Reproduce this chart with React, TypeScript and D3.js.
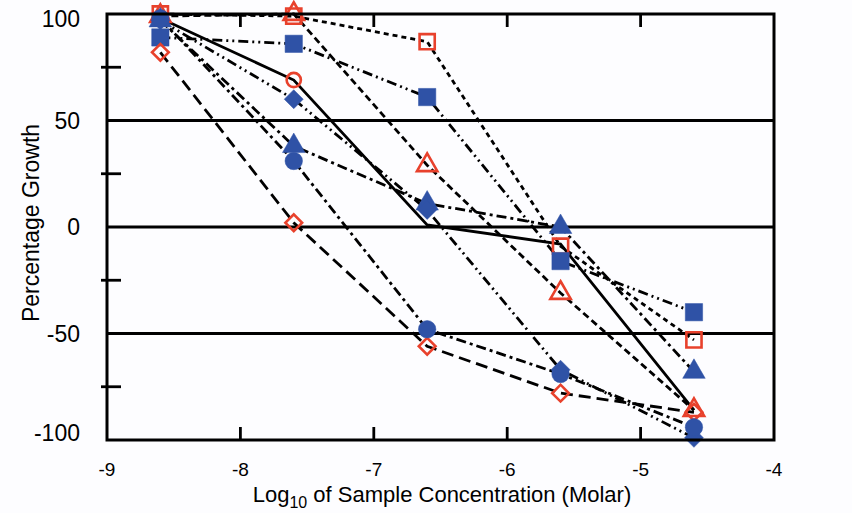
import React from "react";
import * as d3 from "d3";

const xValues = [-8.6, -7.6, -6.6, -5.6, -4.6];
const redSquare = [100, 99, 87, -9, -53];
const redTriangle = [99, 100, 29, -31, -86];
const blueSquare = [89, 86, 61, -16, -40];
const redCircle = [98, 69, 1, -8, -86];
const redCircleMarkerShown = [true, true, false, false, false];
const blueCircle = [98, 31, -48, -69, -94];
const blueTriangle = [97, 38, 11, 0, -68];
const blueDiamond = [97, 60, 8, -67, -99];
const redDiamond = [82, 2, -56, -78, -87];

const xTicks = [-9, -8, -7, -6, -5, -4];
const yLabelTicks = [100, 50, 0, -50, -100];
const yMinorTicks = [75, 25, -25, -75];
const gridValues = [50, 0, -50];

const RED = "#E8412C";
const BLUE = "#2F52A6";

type Sym = "square" | "circle" | "triangle" | "diamond";
interface Series {
  name: string;
  values: number[];
  symbol: Sym;
  filled: boolean;
  color: string;
  dash: string;
  shown?: boolean[];
}

const seriesList: Series[] = [
  { name: "redSquare", values: redSquare, symbol: "square", filled: false, color: RED, dash: "5,4" },
  { name: "redTriangle", values: redTriangle, symbol: "triangle", filled: false, color: RED, dash: "7,4" },
  { name: "blueSquare", values: blueSquare, symbol: "square", filled: true, color: BLUE, dash: "10,4,2,4,2,4" },
  { name: "redCircle", values: redCircle, symbol: "circle", filled: false, color: RED, dash: "none", shown: redCircleMarkerShown },
  { name: "redDiamond", values: redDiamond, symbol: "diamond", filled: false, color: RED, dash: "12,6" },
  { name: "blueTriangle", values: blueTriangle, symbol: "triangle", filled: true, color: BLUE, dash: "10,4,3,4" },
  { name: "blueDiamond", values: blueDiamond, symbol: "diamond", filled: true, color: BLUE, dash: "10,4,2,4,2,4" },
  { name: "blueCircle", values: blueCircle, symbol: "circle", filled: true, color: BLUE, dash: "10,4,3,4" },
];

const W = 852;
const H = 513;
const M = { left: 107, right: 774, top: 14, bottom: 440 };

const x = d3.scaleLinear().domain([-9, -4]).range([M.left, M.right]);
const y = d3.scaleLinear().domain([-100, 100]).range([M.bottom, M.top]);

const line = d3
  .line<number>()
  .x((_, i) => x(xValues[i]))
  .y((d) => y(d));

function symbolPath(sym: Sym, filled: boolean) {
  const typeMap = {
    square: d3.symbolSquare,
    circle: d3.symbolCircle,
    triangle: d3.symbolTriangle,
    diamond: d3.symbolSquare,
  } as const;
  const size = filled
    ? { square: 300, circle: 240, triangle: 220, diamond: 180 }[sym]
    : { square: 230, circle: 160, triangle: 180, diamond: 140 }[sym];
  return d3.symbol(typeMap[sym], size)() as string;
}

export default function App() {
  const font = "'Liberation Sans', Arial, sans-serif";
  return (
    <svg
      width={W}
      height={H}
      style={{ position: "absolute", left: 0, top: 0, background: "#fdfdff" }}
      fontFamily={font}
    >
      <rect x={0} y={0} width={W} height={H} fill="#fdfdff" />
      {gridValues.map((v) => (
        <line key={v} x1={M.left} x2={M.right} y1={y(v)} y2={y(v)} stroke="#000" strokeWidth={2.8} />
      ))}
      {seriesList.map((s) => (
        <path
          key={s.name}
          d={line(s.values) as string}
          fill="none"
          stroke="#000"
          strokeWidth={2.8}
          strokeDasharray={s.dash}
        />
      ))}
      {seriesList.map((s) =>
        s.values.map((v, i) => {
          if (s.shown && !s.shown[i]) return null;
          const rot = s.symbol === "diamond" ? 45 : 0;
          return (
            <path
              key={s.name + i}
              d={symbolPath(s.symbol, s.filled)}
              transform={`translate(${x(xValues[i])},${y(v)}) rotate(${rot})`}
              fill={s.filled ? s.color : "none"}
              stroke={s.color}
              strokeWidth={s.filled ? 0.5 : 2.6}
            />
          );
        })
      )}
      <rect
        x={M.left}
        y={M.top}
        width={M.right - M.left}
        height={M.bottom - M.top}
        fill="none"
        stroke="#000"
        strokeWidth={3}
      />
      {yMinorTicks.map((v) => (
        <line key={v} x1={M.left - 6} x2={M.left + 14} y1={y(v)} y2={y(v)} stroke="#000" strokeWidth={2.8} />
      ))}
      {xTicks.slice(1, -1).map((v) => (
        <g key={v}>
          <line x1={x(v)} x2={x(v)} y1={M.bottom} y2={M.bottom - 13} stroke="#000" strokeWidth={2.8} />
          <line x1={x(v)} x2={x(v)} y1={M.top} y2={M.top + 13} stroke="#000" strokeWidth={2.8} />
        </g>
      ))}
      {yLabelTicks.map((v, i) => {
        const nudge = i === 0 ? 5 : i === yLabelTicks.length - 1 ? -7 : 0;
        return (
          <text
            key={v}
            x={80}
            y={y(v) + nudge}
            textAnchor="end"
            dominantBaseline="central"
            fontSize={23}
            fill="#000"
          >
            {v}
          </text>
        );
      })}
      {xTicks.map((v) => (
        <text key={v} x={x(v)} y={469} textAnchor="middle" dominantBaseline="central" fontSize={19} fill="#000">
          {v}
        </text>
      ))}
      <text
        transform={`translate(39,223) rotate(-90)`}
        textAnchor="middle"
        fontSize={23}
        fill="#000"
      >
        Percentage Growth
      </text>
      <text x={442} y={502} textAnchor="middle" fontSize={22} fill="#000">
        Log
        <tspan dy={6} fontSize={16}>10</tspan>
        <tspan dy={-6}> of Sample Concentration (Molar)</tspan>
      </text>
    </svg>
  );
}
